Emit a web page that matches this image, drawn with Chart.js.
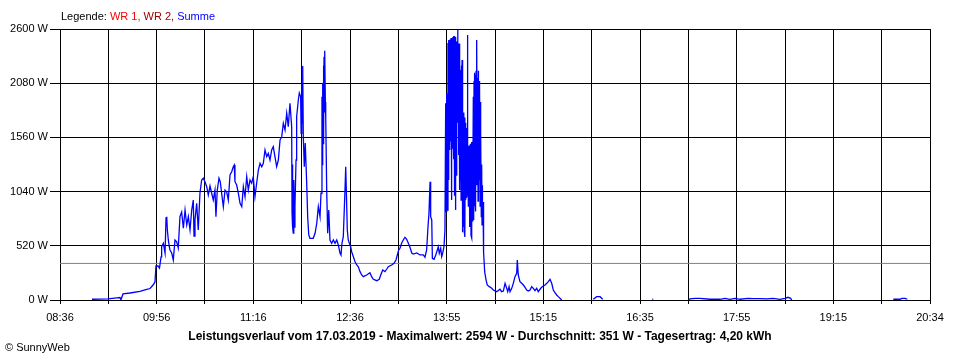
<!DOCTYPE html>
<html>
<head>
<meta charset="utf-8">
<script src="https://cdn.jsdelivr.net/npm/chart.js@4/dist/chart.umd.min.js"></script>
<style>
  body { margin: 0; background: #fff; }
</style>
</head>
<body>
<canvas id="leistung" width="960" height="360"></canvas>
<script>
// Zeitachse in Minuten seit Mitternacht (08:36 .. 20:34)
const start = 516;
const ende = 1234;
const xTickLabels = ['08:36', '09:56', '11:16', '12:36', '13:55', '15:15', '16:35', '17:55', '19:15', '20:34'];
const yTicks = [0, 520, 1040, 1560, 2080, 2600];
const durchschnitt = 351;

const legende = [['Legende: ', '#000000'], ['WR 1, ', '#ff0000'], ['WR 2, ', '#a00000'], ['Summe', '#0000ff']];
const titel = 'Leistungsverlauf vom 17.03.2019 - Maximalwert: 2594 W - Durchschnitt: 351 W - Tagesertrag: 4,20 kWh';

// Summe (W)
const zeit = [
  542.4, 555.6, 563.0, 565.5, 566.3, 568.0, 573.8, 582.0, 586.1, 590.3, 592.8, 594.4,
  595.2, 596.9, 598.1, 599.4, 599.9, 601.3, 602.7, 603.5, 604.1, 604.6, 605.4, 606.2, 606.8, 608.2,
  609.5, 610.9, 612.3, 613.6, 615.0, 616.4, 617.8, 619.2, 620.6, 621.9, 623.3, 624.7, 626.0, 626.6,
  627.4, 628.8, 630.1, 631.5, 632.9, 634.3, 635.7, 637.1, 638.4, 639.8, 641.2, 642.5, 643.9, 644.7,
  645.8, 647.2, 648.3, 649.4, 650.8, 652.2, 653.6, 654.9, 656.3, 657.7, 659.0, 659.8, 660.4, 661.8,
  663.2, 664.6, 666.0, 667.3, 668.7, 670.1, 671.4, 672.8, 674.2, 675.5, 676.9, 678.3, 679.7, 681.1,
  682.5, 683.8, 685.2, 686.6, 687.9, 689.3, 690.7, 692.0, 693.4, 694.8, 696.2, 697.6, 699.0, 700.3,
  701.7, 703.1, 704.4, 705.8, 707.2, 707.5, 707.8, 708.1, 708.5, 708.8, 709.1, 709.5, 709.9, 710.8,
  711.3, 712.7, 713.5, 714.6, 715.0, 715.5, 715.9, 716.3, 716.8, 717.6, 718.4, 719.6, 720.4, 721.3,
  722.3, 725.0, 726.5, 727.9, 729.2, 730.6, 731.4, 732.2, 732.5, 732.8, 733.1, 733.4, 733.7, 733.9,
  734.2, 734.5, 734.7, 735.0, 735.3, 736.1, 736.9, 737.8, 738.8, 740.2, 741.6, 743.0, 744.4,
  745.7, 747.1, 747.9, 748.7, 749.8, 751.2, 751.8, 752.3, 753.1, 753.9, 754.8, 755.9,
  756.7, 758.1, 759.5, 760.9, 762.2, 763.6, 765.0, 766.3, 769.1, 771.8, 773.2, 774.6, 777.4, 779.5,
  780.7, 782.3, 784.2, 785.6, 786.9, 789.7, 791.6, 793.3, 794.4, 795.5, 796.6, 798.0, 799.3, 800.7,
  802.1, 803.5, 804.9, 806.3, 807.6, 810.4, 813.1, 815.8, 817.2, 818.6, 819.7, 820.5, 821.4, 821.9,
  822.8, 823.3, 824.7, 826.1, 827.4, 828.2, 829.0, 830.2, 831.0, 831.8, 832.9, 833.7, 834.3, 834.7,
  835.1, 835.6,
  836.2, 836.4, 836.6, 836.8, 837.0, 837.2, 837.5, 837.7, 837.9, 838.1, 838.3, 838.5, 838.7, 838.9,
  839.1, 839.3, 839.5, 839.7, 839.9, 840.1, 840.3, 840.5, 840.8, 841.0, 841.2, 841.4, 841.6, 841.8,
  842.0, 842.2, 842.4, 842.6, 842.8, 843.0, 843.2, 843.4, 843.6, 843.9, 844.2, 844.4, 844.7, 845.0,
  845.3, 845.5, 845.7, 845.9, 846.1, 846.4, 846.7, 847.0, 847.2, 847.5, 847.8, 848.0, 848.3, 848.5,
  848.8, 849.1, 849.4, 849.7, 850.0, 850.2, 850.5, 850.8, 851.1, 851.4, 851.6, 851.9, 852.1, 852.4,
  852.7, 853.0, 853.3, 853.5, 853.8, 854.1, 854.4, 854.6, 854.9, 855.2, 855.5, 855.8, 856.0, 856.3,
  856.6, 856.8, 857.1, 857.4, 857.7, 858.0, 858.3, 858.5, 858.8, 859.1, 859.4, 859.6, 859.9, 860.1,
  860.4, 860.7, 861.0, 861.2, 861.5, 861.8, 862.1, 862.4, 862.7, 862.9, 863.2, 863.4, 863.7, 864.0,
  864.3, 864.5, 864.8, 865.1, 865.3, 865.5, 865.9, 866.5,
  867.6, 868.6, 870.3, 872.3, 873.6, 876.4, 879.1, 880.5,
  881.9, 883.3, 884.7, 885.5, 886.6, 887.4, 888.8, 890.1, 891.5, 892.9, 893.4, 894.2, 895.6, 897.0,
  898.4, 899.8, 901.2, 902.5, 903.9, 905.3, 906.6, 908.0, 909.4, 910.7, 912.1, 913.5, 914.9, 916.3,
  917.7, 919.0, 920.4, 921.8, 923.1, 924.5, 925.9, 927.2, 928.6, 930.0,
  940, 956.1, 958.9, 961.7, 963.9, 985, 1004.9, 1005.6, 1020,
  1034.5, 1035.9, 1040.1, 1044.2, 1052.4, 1060.7, 1064.8, 1068.9, 1073.1, 1077.2, 1083.8, 1087.9,
  1093.7, 1099.5, 1104.4, 1110.2, 1114.3, 1116.8, 1119.0, 1119.9,
  1160, 1203.7, 1209.2, 1210.9, 1213.4, 1215.3
];
const summe = [
  7, 10, 21, 24, 2, 58, 67, 82, 96, 110, 144, 173,
  326, 326, 307, 413, 511, 544, 451, 787, 799, 672, 576, 511, 480, 451,
  384, 576, 559, 499, 799, 844, 688, 863, 720, 799, 672, 863, 959, 614,
  768, 928, 672, 1024, 1151, 1168, 1132, 1087, 1007, 1094, 1024, 959, 1055, 799,
  1055, 1168, 1132, 1024, 895, 1055, 1036, 959, 1199, 1231, 1279, 1295, 1135, 1103,
  1024, 928, 895, 1087, 991, 1183, 1055, 1151, 1120, 1183, 991, 1120, 1247, 1311,
  1279, 1311, 1439, 1375, 1407, 1343, 1439, 1471, 1375, 1279, 1343, 1535, 1567, 1695,
  1631, 1791, 1663, 1887, 1663, 835, 1300, 700, 643, 1100, 1151, 700, 892, 1343,
  1759, 1919, 1986, 1950, 1600, 2079, 1700, 2245, 1567, 1279, 1506, 1120, 799, 624,
  592, 592, 640, 736, 895, 799, 1024, 1950, 1300, 2079, 1500, 2250, 1600, 2334,
  1800, 2380, 2392, 1900, 1759, 1055, 640, 863, 576, 544, 576, 544, 576,
  528, 448, 432, 544, 607, 1055, 1279, 1055, 672, 576, 544, 511,
  463, 415, 367, 336, 319, 272, 240, 224, 240, 262, 224, 199, 185, 199,
  240, 288, 272, 295, 319, 336, 352, 384, 432, 480, 496, 547, 576, 602,
  582, 544, 504, 451, 441, 451, 432, 432, 410, 480, 703, 832, 1135, 799,
  768, 400, 390, 432, 480, 511, 448, 496, 415, 448, 511, 672, 1887, 847,
  1983, 863,
  2466, 1250, 2494, 1151, 2494, 1680, 2475, 1439, 2500, 1871, 2480, 1520, 2514, 959,
  2490, 1300, 2494, 1727, 2520, 1450, 2514, 1583, 2530, 1350, 2533, 1199, 2500, 1000,
  2494, 863, 2510, 1100, 2523, 1199, 2480, 1400, 2446, 1800, 2594, 1700, 2450, 1391,
  2460, 1200, 2446, 1055, 2300, 1150, 2207, 959, 2250, 1050, 2303, 720, 1850, 650,
  1727, 700, 1800, 652, 1750, 604, 1700, 959, 1650, 979, 1439, 1000, 2542, 1103,
  1500, 900, 1480, 1199, 1450, 700, 1487, 844, 1500, 620, 1516, 595, 1480, 760,
  1520, 1151, 1950, 768, 2100, 900, 2180, 1000, 2159, 850, 2200, 1100, 2150, 2494,
  1200, 2130, 950, 2200, 1050, 2100, 1150, 2050, 900, 1900, 1000, 1600, 800, 1300,
  720, 1100, 720, 940, 672, 700, 461, 269,
  192, 144, 128, 112, 96, 80, 103, 80,
  86, 160, 112, 80, 128, 80, 112, 160, 224, 256, 384, 240, 176, 160,
  144, 122, 96, 86, 96, 128, 112, 89, 112, 80, 103, 122, 134, 144,
  160, 176, 199, 160, 96, 70, 48, 32, 16, 0,
  null, 7, 32, 32, 7, null, 7, 7, null,
  0, 10, 16, 16, 7, 7, 16, 7, 16, 7, 16, 13,
  13, 10, 16, 7, 16, 26, 16, 0,
  null, 7, 7, 16, 16, 7
];

const xGitter = Array.from({ length: 19 }, (_, i) => start + i * (ende - start) / 18);

const textePlugin = {
  id: 'texte',
  afterDraw(chart) {
    const ctx = chart.ctx;
    ctx.save();
    ctx.font = '11px "Liberation Sans", Arial, sans-serif';
    ctx.textBaseline = 'middle';
    let x = 61;
    legende.forEach(([text, farbe]) => {
      ctx.fillStyle = farbe;
      ctx.fillText(text, x, 17);
      x += ctx.measureText(text).width;
    });
    ctx.fillStyle = '#000';
    ctx.fillText('\u00A9 SunnyWeb', 5, 348);
    ctx.font = 'bold 12px "Liberation Sans", Arial, sans-serif';
    ctx.textAlign = 'center';
    ctx.fillText(titel, 480, 337);
    ctx.restore();
  }
};

function createChart() {
  Chart.defaults.font.family = '"Liberation Sans", Arial, sans-serif';
  Chart.defaults.font.size = 11;
  Chart.defaults.color = '#000';

  const ctx = document.getElementById('leistung');

  new Chart(ctx, {
    type: 'line',
    data: {
      datasets: [{
        label: 'Summe',
        data: zeit.map((t, i) => ({ x: t, y: summe[i] })),
        borderColor: '#0000ff',
        borderWidth: 1.3,
        pointRadius: 0,
        spanGaps: false,
        tension: 0,
        order: 1
      }, {
        label: 'Durchschnitt',
        data: [{ x: start, y: durchschnitt }, { x: ende, y: durchschnitt }],
        borderColor: '#808080',
        borderWidth: 1,
        pointRadius: 0,
        order: 2
      }]
    },
    options: {
      responsive: false,
      animation: false,
      layout: { padding: { top: 29, right: 30, left: 0, bottom: 0 } },
      plugins: {
        legend: { display: false },
        tooltip: { enabled: false },
        title: { display: false }
      },
      scales: {
        x: {
          type: 'linear',
          min: start,
          max: ende,
          z: 1,
          afterBuildTicks: s => { s.ticks = xGitter.map(v => ({ value: v })); },
          afterFit: s => { s.height = 60; },
          ticks: {
            autoSkip: false,
            maxRotation: 0,
            padding: 7,
            callback: (v, i) => (i % 2 === 0 ? xTickLabels[i / 2] : '')
          },
          grid: { color: '#000', lineWidth: 1, tickLength: 4 },
          border: { color: '#000' }
        },
        y: {
          min: 0,
          max: 2600,
          z: 1,
          afterBuildTicks: s => { s.ticks = yTicks.map(v => ({ value: v })); },
          afterFit: s => { s.width = 60; },
          ticks: {
            padding: 2,
            callback: v => v + ' W'
          },
          grid: { color: '#000', lineWidth: 1, tickLength: 10 },
          border: { color: '#000' }
        }
      }
    },
    plugins: [textePlugin]
  });
}

createChart();
</script>
</body>
</html>
